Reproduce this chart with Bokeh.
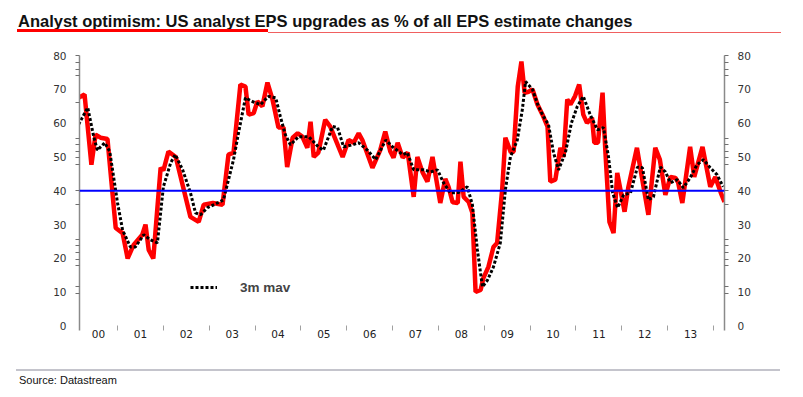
from bokeh.plotting import figure
from bokeh.models import Range1d, LinearAxis, FixedTicker, Span, Legend, Div
from bokeh.layouts import column
from bokeh.embed import file_html
from bokeh.resources import INLINE

# ---------------- data ----------------
title_text = "Analyst optimism: US analyst EPS upgrades as % of all EPS estimate changes"
source_text = "Source: Datastream"
legend_label = "3m mav"

upgrades_t = [2000.15, 2000.28, 2000.43, 2000.52, 2000.63, 2000.78, 2000.96, 2001.11, 2001.22, 2001.35,
              2001.54, 2001.61, 2001.68, 2001.78, 2001.94, 2002.00, 2002.11, 2002.27, 2002.59, 2002.77,
              2002.88, 2003.08, 2003.29, 2003.42, 2003.53, 2003.68, 2003.79, 2003.86, 2003.97, 2004.05,
              2004.16, 2004.27, 2004.38, 2004.51, 2004.62, 2004.70, 2004.82, 2004.93, 2005.03, 2005.14,
              2005.21, 2005.28, 2005.38, 2005.53, 2005.64, 2005.91, 2006.04, 2006.15, 2006.26, 2006.34,
              2006.56, 2006.73, 2006.84, 2006.95, 2007.02, 2007.11, 2007.22, 2007.33, 2007.46, 2007.54,
              2007.65, 2007.76, 2007.87, 2007.98, 2008.04, 2008.15, 2008.22, 2008.31, 2008.42, 2008.48,
              2008.55, 2008.66, 2008.74, 2008.81, 2008.92, 2008.98, 2009.09, 2009.20, 2009.28, 2009.39,
              2009.46, 2009.58, 2009.64, 2009.73, 2009.81, 2009.88, 2009.97, 2010.05, 2010.16, 2010.27,
              2010.38, 2010.44, 2010.55, 2010.66, 2010.73, 2010.81, 2010.88, 2010.98, 2011.07, 2011.16,
              2011.24, 2011.35, 2011.40, 2011.48, 2011.58, 2011.64, 2011.73, 2011.82, 2011.90, 2011.97,
              2012.06, 2012.14, 2012.33, 2012.44, 2012.58, 2012.73, 2012.83, 2012.95, 2013.06, 2013.17,
              2013.23, 2013.32, 2013.49, 2013.58, 2013.76, 2013.93, 2014.04, 2014.16, 2014.24]
upgrades_pct = [67.5, 68.5, 47.7, 56.6, 55.7, 55.3, 29.0, 27.5, 20.0, 24.0,
                27.0, 30.0, 22.5, 20.0, 46.8, 46.0, 51.6, 50.0, 32.3, 30.8,
                35.9, 36.4, 35.9, 50.7, 51.3, 71.4, 70.8, 62.5, 63.0, 66.4,
                65.0, 72.0, 67.0, 58.7, 58.7, 47.0, 55.7, 57.0, 56.0, 52.7,
                60.4, 50.0, 51.3, 61.0, 59.0, 50.0, 55.0, 54.2, 57.0, 55.0,
                46.8, 52.0, 57.5, 51.6, 49.8, 54.2, 49.8, 51.3, 38.2, 50.0,
                45.6, 42.7, 50.0, 41.2, 36.4, 43.5, 41.2, 36.6, 36.4, 48.6,
                38.2, 36.7, 33.5, 10.1, 10.7, 14.2, 17.5, 23.4, 24.6, 40.3,
                55.7, 51.3, 51.6, 70.8, 78.2, 69.0, 69.3, 70.0, 65.5, 62.5,
                59.0, 42.7, 43.3, 52.7, 50.0, 67.0, 65.5, 68.0, 71.4, 62.5,
                60.1, 61.6, 54.2, 54.2, 69.0, 52.0, 30.8, 27.5, 45.3, 40.3,
                33.8, 40.9, 52.7, 43.8, 32.9, 52.7, 49.2, 38.8, 44.1, 43.8,
                42.4, 36.4, 53.0, 44.1, 53.0, 41.2, 44.1, 39.4, 36.7]

mav_t = [2000.15, 2000.35, 2000.48, 2000.56, 2000.72, 2000.83, 2001.00, 2001.11, 2001.28, 2001.39,
         2001.57, 2001.72, 2001.87, 2002.00, 2002.16, 2002.26, 2002.42, 2002.59, 2002.70, 2002.81,
         2002.96, 2003.18, 2003.31, 2003.53, 2003.64, 2003.79, 2003.94, 2004.12, 2004.29, 2004.45,
         2004.55, 2004.66, 2004.77, 2004.95, 2005.17, 2005.38, 2005.49, 2005.69, 2005.80, 2005.93,
         2006.13, 2006.26, 2006.45, 2006.63, 2006.85, 2007.00, 2007.22, 2007.32, 2007.46, 2007.67,
         2007.83, 2007.98, 2008.11, 2008.26, 2008.44, 2008.63, 2008.74, 2008.85, 2008.96, 2009.07,
         2009.20, 2009.35, 2009.46, 2009.57, 2009.72, 2009.83, 2009.90, 2010.05, 2010.18, 2010.29,
         2010.40, 2010.51, 2010.62, 2010.77, 2010.90, 2011.03, 2011.16, 2011.31, 2011.47, 2011.60,
         2011.71, 2011.80, 2011.91, 2012.04, 2012.19, 2012.34, 2012.45, 2012.58, 2012.69, 2012.84,
         2012.95, 2013.06, 2013.21, 2013.34, 2013.49, 2013.64, 2013.78, 2013.93, 2014.08, 2014.21]
mav_pct = [59.6, 64.6, 56.0, 52.0, 54.2, 51.6, 36.4, 28.4, 23.4, 23.4,
           27.0, 25.5, 24.6, 41.2, 48.3, 50.7, 46.2, 39.4, 33.5, 32.9,
           35.0, 36.4, 37.3, 49.2, 57.2, 67.5, 66.4, 65.5, 67.9, 67.5,
           62.0, 56.6, 53.6, 56.0, 56.0, 53.0, 52.0, 59.0, 58.7, 53.0,
           53.6, 54.2, 52.0, 49.2, 55.0, 53.0, 50.7, 51.3, 46.2, 46.2,
           45.6, 46.2, 42.4, 39.4, 39.5, 41.2, 35.9, 22.5, 11.6, 13.6,
           17.5, 24.6, 40.3, 50.0, 55.0, 64.0, 72.3, 70.0, 65.0, 62.0,
           59.6, 51.3, 46.2, 51.3, 60.0, 65.0, 67.9, 62.5, 58.0, 58.7,
           50.0, 39.4, 35.0, 38.8, 39.4, 47.0, 46.8, 37.3, 38.2, 47.0,
           45.6, 42.4, 43.3, 40.9, 43.8, 47.7, 49.2, 46.8, 44.7, 41.2]

reference_level = 40
x_start, x_end = 2000.17, 2014.24
y_ticks = [0, 10, 20, 30, 40, 50, 60, 70, 80]
y_minor = [80, 78, 76, 74, 66, 55.6, 53.6, 51.6, 49.7, 47.9, 40, 35.9,
           25.7, 23.7, 21.7, 19.6, 17.8, 11.6, 9.7]
years = list(range(2000, 2014))
year_labels = ["00", "01", "02", "03", "04", "05", "06", "07", "08", "09", "10", "11", "12", "13"]

# ---------------- layout sizes ----------------
W = 795
TOP_H = 38
PLOT_H = 320
BOT_H = 36

# ---------------- header (title + red rules) ----------------
header_html = (
    f'<div style="position:relative;width:{W}px;height:{TOP_H}px;overflow:hidden;">'
    f'<div style="position:absolute;left:18px;top:13px;white-space:nowrap;'
    f'font-family:\'Liberation Sans\',Arial,sans-serif;font-weight:bold;font-size:16.5px;'
    f'line-height:1;color:#111;">{title_text}</div>'
    f'<div style="position:absolute;left:17px;top:28.7px;width:251px;height:3.6px;background:#ff0000;"></div>'
    f'<div style="position:absolute;left:268px;top:31.6px;width:513px;height:1.4px;background:#f06060;"></div>'
    f'</div>'
)
header = Div(text=header_html, width=W, height=TOP_H, margin=0)

# ---------------- footer (grey rule + source) ----------------
footer_html = (
    f'<div style="position:relative;width:{W}px;height:{BOT_H}px;overflow:hidden;">'
    f'<div style="position:absolute;left:16px;top:11.3px;width:764px;height:1.7px;background:#c4c4cc;"></div>'
    f'<div style="position:absolute;left:19px;top:16.7px;white-space:nowrap;'
    f'font-family:\'Liberation Sans\',Arial,sans-serif;font-size:11px;line-height:1;color:#111;">'
    f'{source_text}</div>'
    f'</div>'
)
footer = Div(text=footer_html, width=W, height=BOT_H, margin=0)

# ---------------- figure ----------------
p = figure(width=W, height=PLOT_H, output_backend="svg", toolbar_location=None,
           x_range=Range1d(x_start, x_end), y_range=Range1d(-1.3, 80),
           min_border_left=79, min_border_right=W - 724, min_border_top=17, min_border_bottom=28,
           y_axis_location=None, x_axis_location=None, margin=0)
p.outline_line_color = None
p.grid.visible = False
p.background_fill_color = "white"
p.border_fill_color = "white"

tick_font = "DejaVu Sans"

def make_y_axis():
    ax = LinearAxis(ticker=FixedTicker(ticks=y_ticks, minor_ticks=y_minor))
    ax.axis_line_color = "#8a8a8a"
    ax.axis_line_width = 1.5
    ax.major_tick_out = 0
    ax.major_tick_in = 0
    ax.minor_tick_out = 4
    ax.minor_tick_in = 0
    ax.minor_tick_line_color = "#707070"
    ax.major_label_standoff = 9
    ax.major_label_text_font = tick_font
    ax.major_label_text_font_size = "10.5px"
    ax.major_label_text_color = "#333333"
    return ax

p.add_layout(make_y_axis(), "left")
p.add_layout(make_y_axis(), "right")

label_pos = []
for y in years:
    lo = max(y, x_start)
    hi = min(y + 1, x_end)
    label_pos.append(round((lo + hi) / 2, 3))
xax = LinearAxis(ticker=FixedTicker(ticks=label_pos, minor_ticks=list(range(2001, 2015))))
xax.major_label_overrides = {pos: lab for pos, lab in zip(label_pos, year_labels)}
xax.axis_line_color = None
xax.major_tick_out = 0
xax.major_tick_in = 0
xax.minor_tick_in = 5
xax.minor_tick_out = 0
xax.minor_tick_line_color = "#a0a0a0"
xax.major_label_standoff = -1
xax.major_label_text_font = tick_font
xax.major_label_text_font_size = "10.5px"
xax.major_label_text_color = "#222222"
p.add_layout(xax, "below")

# ---------------- series ----------------
p.line(upgrades_t, upgrades_pct, line_color="#ff0000", line_width=4.5)
mav = p.line(mav_t, mav_pct, line_color="black", line_width=3, line_dash="3 2")
p.add_layout(Span(location=reference_level, dimension="width", line_color="#0000ff", line_width=2))

legend = Legend(items=[(legend_label, [mav])], location=(111, 33))
legend.padding = 0
legend.spacing = 0
legend.margin = 0
legend.border_line_color = None
legend.background_fill_alpha = 0
legend.glyph_width = 27
legend.glyph_height = 20
legend.label_standoff = 23
legend.label_text_font = "Liberation Sans"
legend.label_text_font_style = "bold"
legend.label_text_font_size = "13.5px"
p.add_layout(legend)

layout = column(header, p, footer, spacing=0, margin=0)
open("out.html", "w").write(file_html(layout, INLINE))
